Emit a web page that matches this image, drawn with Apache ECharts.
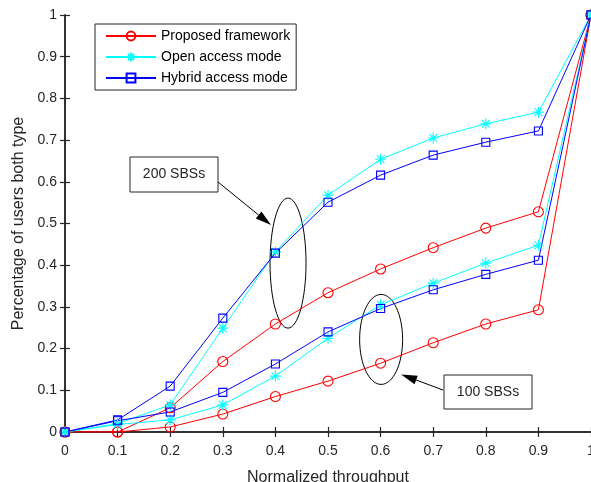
<!DOCTYPE html>
<html>
<head>
<meta charset="utf-8">
<script src="https://cdn.jsdelivr.net/npm/echarts@6/dist/echarts.min.js"></script>
<style>
  html, body { margin: 0; padding: 0; background: #fff; }
  #chart { width: 591px; height: 482px; }
</style>
</head>
<body>
<div id="chart"></div>
<script>
// normalized throughput values on the x axis
const throughput = [0, 0.1, 0.2, 0.3, 0.4, 0.5, 0.6, 0.7, 0.8, 0.9, 1]

// 200 SBSs
const proposed200 = [0, 0, 0.058, 0.169, 0.259, 0.334, 0.391, 0.442, 0.489, 0.528, 1]
const open200 = [0, 0.02, 0.065, 0.249, 0.432, 0.568, 0.654, 0.705, 0.739, 0.767, 1]
const hybrid200 = [0, 0.029, 0.11, 0.273, 0.429, 0.551, 0.616, 0.664, 0.695, 0.722, 1]

// 100 SBSs
const proposed100 = [0, 0, 0.012, 0.043, 0.085, 0.122, 0.165, 0.214, 0.259, 0.293, 1]
const open100 = [0, 0.018, 0.029, 0.065, 0.134, 0.225, 0.305, 0.357, 0.405, 0.448, 1]
const hybrid100 = [0, 0.027, 0.048, 0.095, 0.163, 0.24, 0.296, 0.341, 0.378, 0.412, 1]

const seriesNames = ['Proposed framework', 'Open access mode', 'Hybrid access mode']

const font = 'Liberation Sans, Arial, Helvetica, sans-serif'
const textColor = '#262626'
const starPath = 'path://M0,-10L0,10M-10,0L10,0M-7,-7L7,7M-7,7L7,-7'

const styles = [
  { color: '#ff0000', symbol: 'circle', size: 10 },
  { color: '#00ffff', symbol: starPath, size: 11 },
  { color: '#0000ff', symbol: 'rect', size: 8 },
]

function pairs(values) {
  return throughput.map((x, i) => [x, values[i]])
}

function makeSeries(idx, values) {
  const s = styles[idx]
  return {
    name: seriesNames[idx],
    type: 'line',
    data: pairs(values),
    symbol: s.symbol,
    symbolSize: s.size,
    symbolKeepAspect: true,
    showAllSymbol: true,
    lineStyle: { color: s.color, width: 1 },
    itemStyle: { color: 'rgba(255,255,255,0)', borderColor: s.color, borderWidth: 1.1 },
    emphasis: { disabled: true },
    animation: false,
  }
}

function arrow(x1, y1, x2, y2) {
  const ang = Math.atan2(y2 - y1, x2 - x1)
  const len = 16, half = 4.5
  const bx = x2 - len * Math.cos(ang), by = y2 - len * Math.sin(ang)
  const nx = -Math.sin(ang), ny = Math.cos(ang)
  return [
    { type: 'line', shape: { x1, y1, x2: bx, y2: by }, style: { stroke: '#000', lineWidth: 1 } },
    {
      type: 'polygon',
      shape: { points: [[x2, y2], [bx + nx * half, by + ny * half], [bx - nx * half, by - ny * half]] },
      style: { fill: '#000' },
    },
  ]
}

function label(x, y, w, h, text) {
  return [
    { type: 'rect', shape: { x, y, width: w, height: h }, style: { fill: '#fff', stroke: '#262626', lineWidth: 1 } },
    {
      type: 'text', x: x + w / 2, y: y + h / 2,
      style: { text, font: '14px ' + font, fill: textColor, align: 'center', verticalAlign: 'middle' },
    },
  ]
}

const chart = echarts.init(document.getElementById('chart'))

const axisLine = { show: true, lineStyle: { color: textColor, width: 1.5 } }
const axisTick = { show: true, inside: true, length: 5, lineStyle: { color: textColor, width: 1.2 } }

chart.setOption({
  animation: false,
  backgroundColor: '#fff',
  grid: { left: 65, right: 0, top: 15, bottom: 50, outerBoundsMode: 'none', containLabel: false },
  legend: {
    orient: 'vertical',
    left: 95,
    top: 24,
    data: seriesNames,
    itemWidth: 50,
    itemHeight: 11,
    itemGap: 7,
    padding: [5, 6, 5, 10],
    backgroundColor: '#fff',
    borderColor: textColor,
    borderWidth: 1,
    textStyle: { fontFamily: font, fontSize: 14, lineHeight: 14, color: '#000', padding: [0, 0, 0, 0] },
    selectedMode: false,
  },
  xAxis: [
    {
      type: 'value', min: 0, max: 1, interval: 0.1,
      name: 'Normalized throughput', nameLocation: 'middle', nameGap: 38,
      nameTextStyle: { fontFamily: font, fontSize: 16, color: textColor },
      axisLine, axisTick,
      axisLabel: { fontFamily: font, fontSize: 14, color: textColor, margin: 12 },
      splitLine: { show: false },
    },
    {
      type: 'value', position: 'top', min: 0, max: 1, interval: 0.1,
      axisLine, axisTick, axisLabel: { show: false }, splitLine: { show: false },
    },
  ],
  yAxis: [
    {
      type: 'value', min: 0, max: 1, interval: 0.1,
      name: 'Percentage of users both type', nameLocation: 'middle', nameGap: 35,
      nameTextStyle: { fontFamily: font, fontSize: 16, color: textColor },
      axisLine, axisTick,
      axisLabel: { fontFamily: font, fontSize: 14, color: textColor, margin: 8 },
      splitLine: { show: false },
    },
    {
      type: 'value', position: 'right', min: 0, max: 1, interval: 0.1,
      axisLine, axisTick, axisLabel: { show: false }, splitLine: { show: false },
    },
  ],
  series: [
    makeSeries(0, proposed200),
    makeSeries(1, open200),
    makeSeries(2, hybrid200),
    makeSeries(0, proposed100),
    makeSeries(1, open100),
    makeSeries(2, hybrid100),
  ],
})

// annotations anchored in data coordinates
const c200 = chart.convertToPixel({ gridIndex: 0 }, [0.424, 0.405])
const c100 = chart.convertToPixel({ gridIndex: 0 }, [0.601, 0.222])

chart.setOption({
  graphic: [
    { type: 'ellipse', shape: { cx: c200[0], cy: c200[1], rx: 18, ry: 65 }, style: { fill: 'none', stroke: '#000', lineWidth: 1 } },
    { type: 'ellipse', shape: { cx: c100[0], cy: c100[1], rx: 21.5, ry: 45 }, style: { fill: 'none', stroke: '#000', lineWidth: 1 } },
    ...arrow(218, 182, c200[0] - 17, c200[1] - 38),
    ...arrow(443, 390, c100[0] + 20, c100[1] + 35),
    ...label(130, 157, 88, 35, '200 SBSs'),
    ...label(444, 375, 88, 34, '100 SBSs'),
  ],
})
</script>
</body>
</html>
